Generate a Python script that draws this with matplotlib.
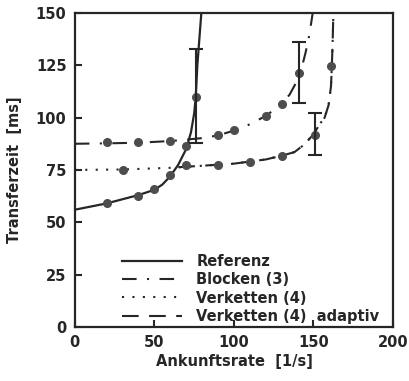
import numpy as np
import matplotlib
matplotlib.use("Agg")
import matplotlib.pyplot as plt

# Analytische Kurven (Ankunftsrate [1/s], Transferzeit [ms])
ref_x = [0, 10, 20, 30, 40, 50, 55, 60, 65, 70, 73, 75, 76, 77, 78, 79.5]
ref_y = [56, 57.5, 59, 61, 63, 65.5, 68, 72, 77.5, 85, 93, 102, 110, 125, 135, 150]

blk_x = [0, 20, 40, 60, 80, 90, 100, 110, 120, 130, 135, 140, 143, 145, 147, 148.5, 149.5]
blk_y = [87.5, 87.7, 88, 88.8, 90.2, 91.5, 93.8, 96.8, 100.8, 106.5, 111, 118, 125, 131, 138, 145, 150]

vk_x = [0, 30, 60, 80, 100, 120, 130, 138, 144, 150, 154, 157, 159.5, 161, 161.5, 162, 162.5]
vk_y = [75, 75.2, 76, 77, 78, 80, 81.8, 83.5, 87, 92, 97, 100, 106, 115, 124, 135, 150]

ad_x = [65, 80, 100, 120, 130, 138, 144, 150, 154, 157, 159.5, 161, 161.5, 162, 162.5]
ad_y = [76.3, 77, 78, 80, 81.8, 83.5, 87, 92, 97, 100, 106, 115, 124, 135, 150]

# Simulationsergebnisse
ref_sx = [20, 40, 50, 60, 70, 76]
ref_sy = [59.2, 62.6, 66, 72.6, 86.5, 110]
blk_sx = [20, 40, 60, 90, 100, 120, 130, 141]
blk_sy = [88.4, 88.4, 88.9, 91.7, 94.1, 100.8, 106.5, 121.4]
vk_sx = [30, 70, 90, 110, 130, 151, 161]
vk_sy = [75, 77.4, 77.4, 78.8, 81.7, 91.7, 124.7]

# Konfidenzintervalle
err_x = [76, 141, 151]
err_lo = [88, 107, 82]
err_hi = [133, 136, 102]

ink = "#262626"
dot = "#4d4d4d"

plt.rcParams["font.family"] = ["DejaVu Sans"]
plt.rcParams["font.weight"] = "bold"

fig = plt.figure(figsize=(4.09, 3.81), dpi=100)
ax = fig.add_axes([0.183, 0.142, 0.778, 0.824])

ax.plot(ref_x, ref_y, color=ink, lw=1.6, label="Referenz")
ax.plot(blk_x, blk_y, color=ink, lw=1.5, ls=(0, (7, 5, 1, 5)), label="Blocken (3)")
ax.plot(vk_x, vk_y, color=ink, lw=1.5, ls=(0, (1, 4)), label="Verketten (4)")
ax.plot(ad_x, ad_y, color=ink, lw=1.5, ls=(0, (8, 5)), label="Verketten (4)  adaptiv")

for sx, sy in [(ref_sx, ref_sy), (blk_sx, blk_sy), (vk_sx, vk_sy)]:
    ax.plot(sx, sy, ls="none", marker="o", ms=5.5, color=dot, mec=dot)

ex = np.array(err_x)
mid = (np.array(err_lo) + np.array(err_hi)) / 2
half = (np.array(err_hi) - np.array(err_lo)) / 2
ax.errorbar(ex, mid, yerr=half, fmt="none", ecolor=ink, elinewidth=1.5, capsize=5, capthick=1.5)

ax.set_xlim(0, 200)
ax.set_ylim(0, 150)
ax.set_xticks([0, 50, 100, 150, 200])
ax.set_yticks([0, 25, 50, 75, 100, 125, 150])
ax.tick_params(direction="in", length=5, width=1.5, labelsize=10.5, colors=ink,
               top=False, right=False, pad=6)
for s in ax.spines.values():
    s.set_linewidth(1.6)
    s.set_color(ink)

ax.set_xlabel("Ankunftsrate  [1/s]", fontsize=10.5, fontweight="bold", color=ink, labelpad=3)
ax.set_ylabel("Transferzeit  [ms]", fontsize=10.5, fontweight="bold", color=ink, labelpad=10)

ax.legend(loc="lower left", bbox_to_anchor=(0.148, 0.01), frameon=False,
          handlelength=4.1, handletextpad=1.0, labelspacing=0.22, borderpad=0,
          borderaxespad=0, prop={"size": 10.5, "weight": "bold"}, labelcolor=ink)

fig.savefig("out.png", dpi=100)
